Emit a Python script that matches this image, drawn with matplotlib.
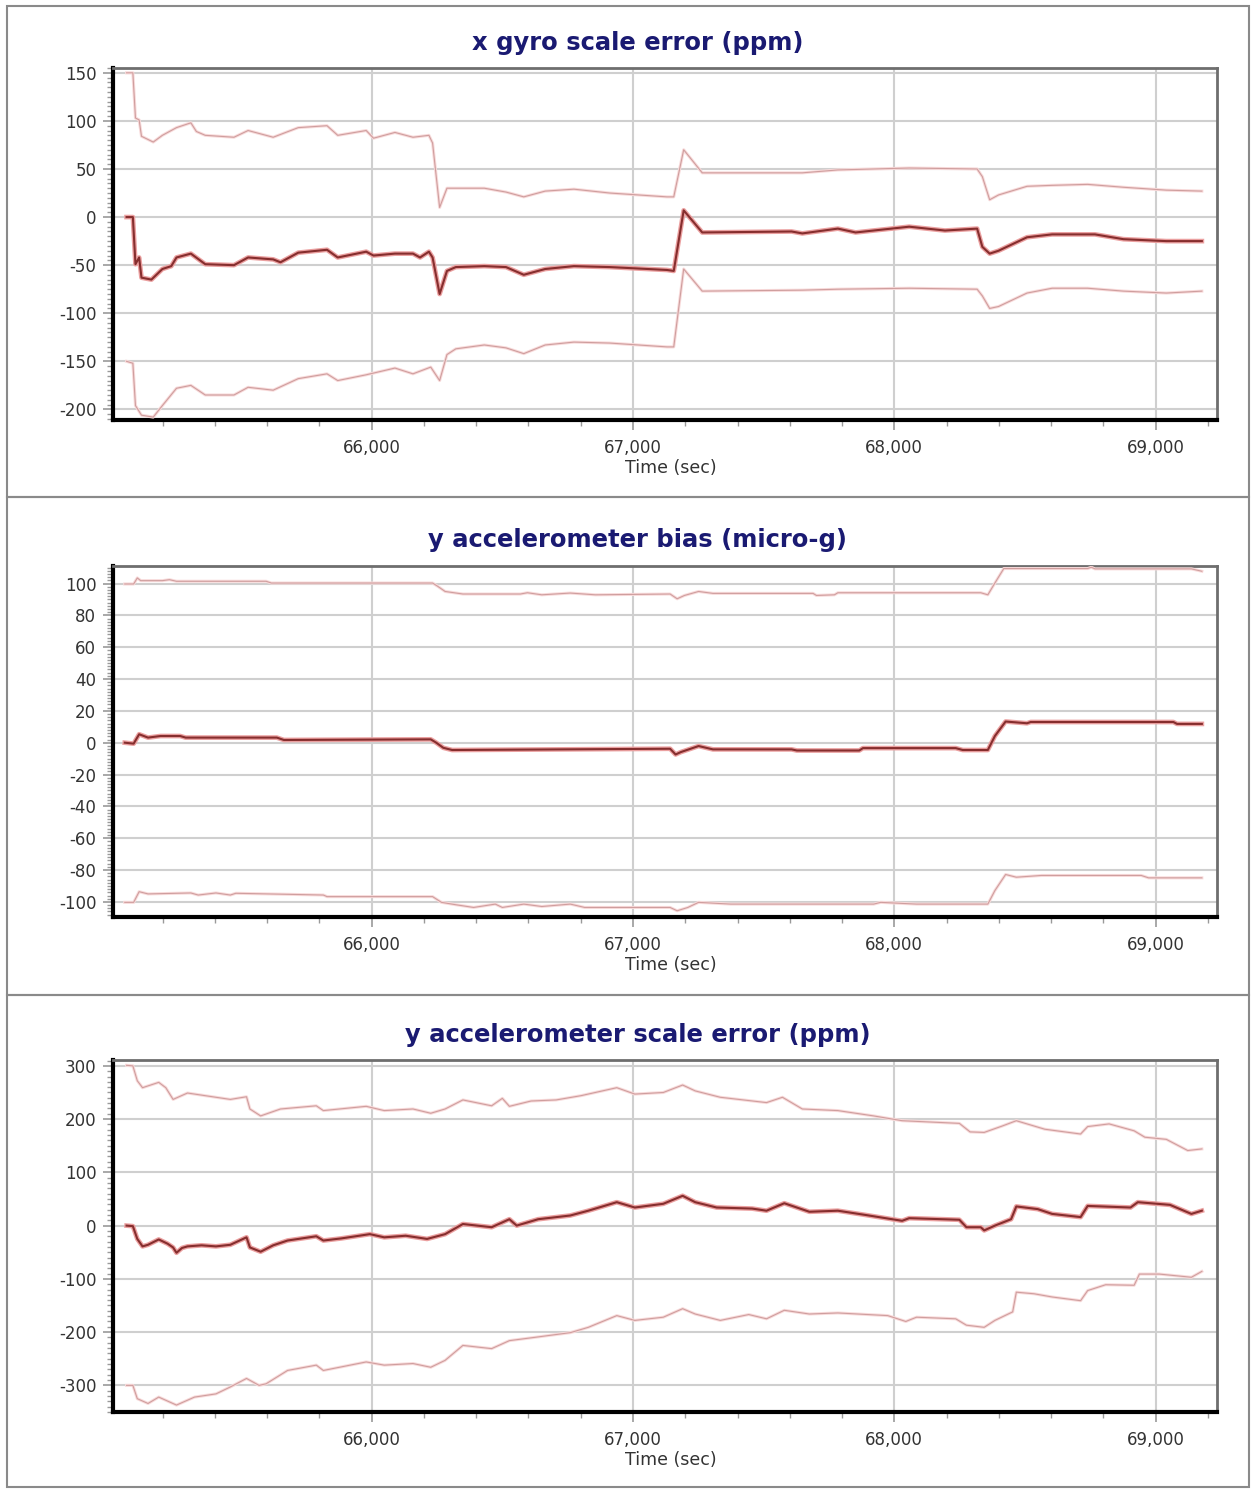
import numpy as np
import matplotlib as mpl
mpl.use('agg')
import matplotlib.pyplot as plt
from matplotlib.ticker import MultipleLocator, FuncFormatter
from matplotlib.patches import Rectangle

plt.rcParams['axes.unicode_minus'] = False
plt.rcParams['font.family'] = ['DejaVu Sans']

# ---- x gyro scale error (ppm) ----
gyro_mid_t = [65062, 65086, 65096, 65110, 65119, 65157, 65199, 65233, 65253, 65308, 65363, 65473,
              65527, 65623, 65651, 65719, 65829, 65870, 65979, 66007, 66089, 66158, 66185, 66219,
              66233, 66260, 66288, 66322, 66431, 66514, 66582, 66664, 66774, 66911, 67130, 67156,
              67194, 67265, 67607, 67648, 67784, 67852, 68057, 68194, 68317, 68337, 68365, 68399,
              68508, 68604, 68768, 68877, 69041, 69177]
gyro_mid_v = [0, 0, -49, -42, -63, -65, -54, -51, -42, -38, -49, -50,
              -42, -44, -47, -37, -34, -42, -36, -40, -38, -38, -42, -36,
              -42, -80, -56, -52, -51, -52, -60, -54, -51, -52, -55, -56,
              7, -16, -15, -17, -12, -16, -10, -14, -12, -31, -38, -35,
              -21, -18, -18, -23, -25, -25]
gyro_up_t = [65062, 65086, 65096, 65110, 65119, 65164, 65199, 65253, 65308, 65329, 65363, 65473,
             65527, 65623, 65719, 65829, 65870, 65979, 66007, 66089, 66158, 66219, 66233, 66260,
             66288, 66431, 66514, 66582, 66664, 66774, 66911, 67130, 67156, 67194, 67265, 67648,
             67784, 68057, 68317, 68337, 68365, 68399, 68508, 68604, 68740, 68877, 69041, 69177]
gyro_up_v = [150, 150, 103, 101, 84, 78, 85, 93, 98, 89, 85, 83,
             90, 83, 93, 95, 85, 90, 82, 88, 83, 85, 77, 10,
             30, 30, 26, 21, 27, 29, 25, 21, 21, 70, 46, 46,
             49, 51, 50, 42, 18, 23, 32, 33, 34, 31, 28, 27]
gyro_lo_t = [65062, 65086, 65096, 65119, 65164, 65199, 65253, 65308, 65363, 65473, 65527, 65623,
             65719, 65829, 65870, 65979, 66089, 66158, 66226, 66260, 66288, 66322, 66431, 66514,
             66582, 66664, 66774, 66911, 67130, 67156, 67194, 67265, 67648, 67784, 68057, 68317,
             68337, 68365, 68399, 68508, 68604, 68740, 68877, 69041, 69177]
gyro_lo_v = [-150, -152, -196, -206, -208, -196, -178, -175, -185, -185, -177, -180,
             -168, -163, -170, -164, -157, -163, -156, -170, -143, -137, -133, -136,
             -142, -133, -130, -131, -135, -135, -54, -77, -76, -75, -74, -75,
             -82, -95, -93, -79, -74, -74, -77, -79, -77]

# ---- y accelerometer bias (micro-g) ----
bias_mid_t = [65055, 65089, 65110, 65144, 65192, 65267, 65288, 65637, 65664, 66226, 66247, 66274,
              66308, 67142, 67163, 67183, 67251, 67306, 67607, 67627, 67866, 67880, 68235, 68262,
              68358, 68385, 68426, 68508, 68522, 69068, 69082, 69177]
bias_mid_v = [0, -0.6, 5.3, 3.2, 4.2, 4.2, 3.2, 3.2, 1.7, 2.1, 0, -3.2,
              -4.6, -3.8, -7.4, -5.9, -2.1, -4.2, -4.2, -4.9, -4.9, -3.4, -3.4, -4.6,
              -4.6, 4.2, 13.3, 12.2, 13, 13, 11.8, 11.8]
bias_up_t = [65055, 65089, 65103, 65116, 65199, 65226, 65253, 65596, 65616, 66233, 66253, 66281,
             66349, 66569, 66596, 66651, 66760, 66856, 67142, 67169, 67197, 67251, 67306, 67689,
             67702, 67771, 67784, 68331, 68358, 68385, 68419, 68740, 68754, 68768, 69137, 69177]
bias_up_v = [99.7, 99.7, 103.5, 101.8, 101.8, 102.4, 101.4, 101.4, 100.3, 100.3, 98.2, 95,
             93.4, 93.4, 94.2, 92.9, 94, 92.9, 93.4, 90.4, 92.5, 95, 93.8, 93.8,
             92.5, 92.9, 94.2, 94.2, 92.9, 100.3, 109.4, 109.4, 110.2, 109.2, 109.2, 107.7]
bias_lo_t = [65055, 65089, 65110, 65144, 65308, 65336, 65404, 65459, 65480, 65815, 65829, 66233,
             66267, 66322, 66390, 66473, 66500, 66582, 66651, 66760, 66815, 67142, 67169, 67210,
             67251, 67374, 67921, 67948, 68085, 68358, 68385, 68426, 68467, 68563, 68945, 68973,
             69177]
bias_lo_v = [-100.3, -100.3, -93.6, -95, -94.4, -95.7, -94.4, -95.7, -94.6, -95.7, -96.7, -96.7,
             -100.3, -101.8, -103.5, -101.4, -103.5, -101.4, -102.9, -101.4, -103.5, -103.5, -105.6, -103.5,
             -100.3, -101.4, -101.4, -100.3, -101.4, -101.4, -92.9, -82.8, -84.5, -83.4, -83.4, -84.9,
             -84.9]

# ---- y accelerometer scale error (ppm) ----
scale_mid_t = [65062, 65086, 65103, 65123, 65144, 65185, 65219, 65240, 65253, 65274, 65295, 65349,
               65404, 65459, 65521, 65534, 65575, 65623, 65678, 65788, 65815, 65884, 65993, 66048,
               66130, 66212, 66281, 66349, 66459, 66527, 66555, 66637, 66760, 66829, 66938, 67007,
               67116, 67190, 67238, 67320, 67456, 67511, 67579, 67675, 67784, 67890, 68030, 68057,
               68249, 68276, 68331, 68344, 68385, 68447, 68467, 68549, 68604, 68713, 68740, 68904,
               68932, 69055, 69137, 69177]
scale_mid_v = [0, -1, -25, -39, -36, -26, -34, -41, -51, -42, -39, -37,
               -39, -36, -22, -41, -49, -37, -28, -20, -28, -24, -16, -22,
               -19, -25, -16, 3, -3, 12, 0, 12, 19, 28, 44, 34,
               41, 56, 44, 34, 32, 28, 42, 26, 28, 20, 9, 14,
               11, -3, -3, -9, 0, 12, 36, 31, 22, 16, 37, 34,
               44, 39, 22, 28]
scale_up_t = [65062, 65086, 65103, 65123, 65185, 65212, 65240, 65295, 65404, 65459, 65521, 65534,
              65575, 65651, 65788, 65815, 65979, 66048, 66158, 66226, 66281, 66349, 66459, 66500,
              66527, 66610, 66706, 66801, 66938, 67007, 67116, 67190, 67238, 67334, 67511, 67572,
              67648, 67784, 67921, 68030, 68249, 68290, 68344, 68413, 68467, 68576, 68713, 68740,
              68822, 68918, 68959, 69041, 69123, 69177]
scale_up_v = [301, 300, 272, 259, 269, 259, 237, 249, 241, 237, 242, 219,
              206, 219, 225, 216, 224, 216, 219, 211, 219, 236, 225, 239,
              224, 234, 236, 244, 259, 247, 250, 264, 253, 241, 231, 241,
              219, 216, 206, 197, 192, 176, 175, 187, 197, 181, 172, 186,
              191, 178, 166, 162, 141, 144]
scale_lo_t = [65062, 65086, 65103, 65144, 65185, 65253, 65322, 65404, 65459, 65521, 65569, 65596,
              65678, 65788, 65815, 65979, 66048, 66158, 66226, 66281, 66349, 66459, 66527, 66637,
              66760, 66829, 66938, 67007, 67116, 67190, 67238, 67334, 67443, 67511, 67579, 67675,
              67784, 67975, 68044, 68085, 68235, 68276, 68344, 68385, 68453, 68467, 68535, 68604,
              68713, 68740, 68809, 68918, 68938, 69014, 69137, 69177]
scale_lo_v = [-300, -300, -325, -334, -322, -337, -322, -316, -303, -287, -300, -297,
              -272, -262, -272, -256, -262, -259, -266, -253, -225, -231, -216, -209,
              -201, -191, -169, -178, -172, -156, -166, -178, -167, -175, -159, -166,
              -164, -169, -180, -172, -175, -187, -191, -178, -162, -125, -128, -134,
              -141, -122, -111, -112, -91, -91, -97, -86]

titles = ['x gyro scale error (ppm)', 'y accelerometer bias (micro-g)',
          'y accelerometer scale error (ppm)']
x_ticks = [66000, 67000, 68000, 69000]

W, H = 1251, 1489
fig = plt.figure(figsize=(W / 100, H / 100), dpi=100)

# panel frames (pixel boxes: top, bottom)
frames = [(6, 497), (497, 995), (995, 1487)]
for top, bot in frames:
    fig.patches.append(Rectangle((7 / W, 1 - bot / H), (1249 - 7) / W, (bot - top) / H,
                                 transform=fig.transFigure, fill=False,
                                 edgecolor='#8a8a8a', lw=1.5))

# axes boxes in pixels: top, bottom ; plus title y, xlabel y
boxes = [(68, 420, 43, 468), (566, 917, 540, 965), (1060, 1412, 1035, 1460)]
ylims = [(-211, 155), (-109.5, 111), (-350, 311)]
majors = [50, 20, 100]
minors = [5, 2, 10]

series = [
    (gyro_mid_t, gyro_mid_v, gyro_up_t, gyro_up_v, gyro_lo_t, gyro_lo_v),
    (bias_mid_t, bias_mid_v, bias_up_t, bias_up_v, bias_lo_t, bias_lo_v),
    (scale_mid_t, scale_mid_v, scale_up_t, scale_up_v, scale_lo_t, scale_lo_v),
]

left, right = 113, 1217
for i in range(3):
    top, bot, ty, ly = boxes[i]
    ax = fig.add_axes([left / W, 1 - bot / H, (right - left) / W, (bot - top) / H])
    mt, mv, ut, uv, lt, lv = series[i]
    for t, v in [(ut, uv), (lt, lv)]:
        ax.plot(t, v, color='#f8dada', lw=2.2, zorder=3)
        ax.plot(t, v, color='#cf9e9e', lw=0.8, zorder=4)
    ax.plot(mt, mv, color='#eba0a0', lw=3.4, zorder=5)
    ax.plot(mt, mv, color='#862e2e', lw=1.5, zorder=6)

    ax.set_xlim(65010, 69235)
    ax.set_ylim(*ylims[i])
    ax.set_xticks(x_ticks)
    ax.xaxis.set_minor_locator(MultipleLocator(200))
    ax.xaxis.set_major_formatter(FuncFormatter(lambda x, p: '{:,.0f}'.format(x)))
    ax.yaxis.set_major_locator(MultipleLocator(majors[i]))
    ax.yaxis.set_minor_locator(MultipleLocator(minors[i]))
    ax.yaxis.set_major_formatter(FuncFormatter(lambda y, p: '{:g}'.format(y)))

    ax.grid(True, which='major', color='#cfcfcf', lw=1.5)
    ax.set_axisbelow(True)
    ax.tick_params(axis='both', which='major', labelsize=12, labelcolor='#333333',
                   color='#9a9a9a', length=7, width=1.2)
    ax.tick_params(axis='both', which='minor', color='#9a9a9a', length=4, width=1)
    ax.tick_params(axis='x', which='major', pad=7)
    ax.tick_params(axis='y', which='major', pad=5)

    ax.spines['left'].set_color('black')
    ax.spines['left'].set_linewidth(3)
    ax.spines['bottom'].set_color('black')
    ax.spines['bottom'].set_linewidth(3)
    ax.spines['top'].set_color('#6e6e6e')
    ax.spines['top'].set_linewidth(2)
    ax.spines['right'].set_color('#6e6e6e')
    ax.spines['right'].set_linewidth(2)

    fig.text(638 / W, 1 - ty / H, titles[i], ha='center', va='center',
             fontsize=17.5, fontweight='bold', color='#1a1a72')
    fig.text(671 / W, 1 - ly / H, 'Time (sec)', ha='center', va='center',
             fontsize=12.5, color='#333333')

fig.savefig('out.png', dpi=100)
